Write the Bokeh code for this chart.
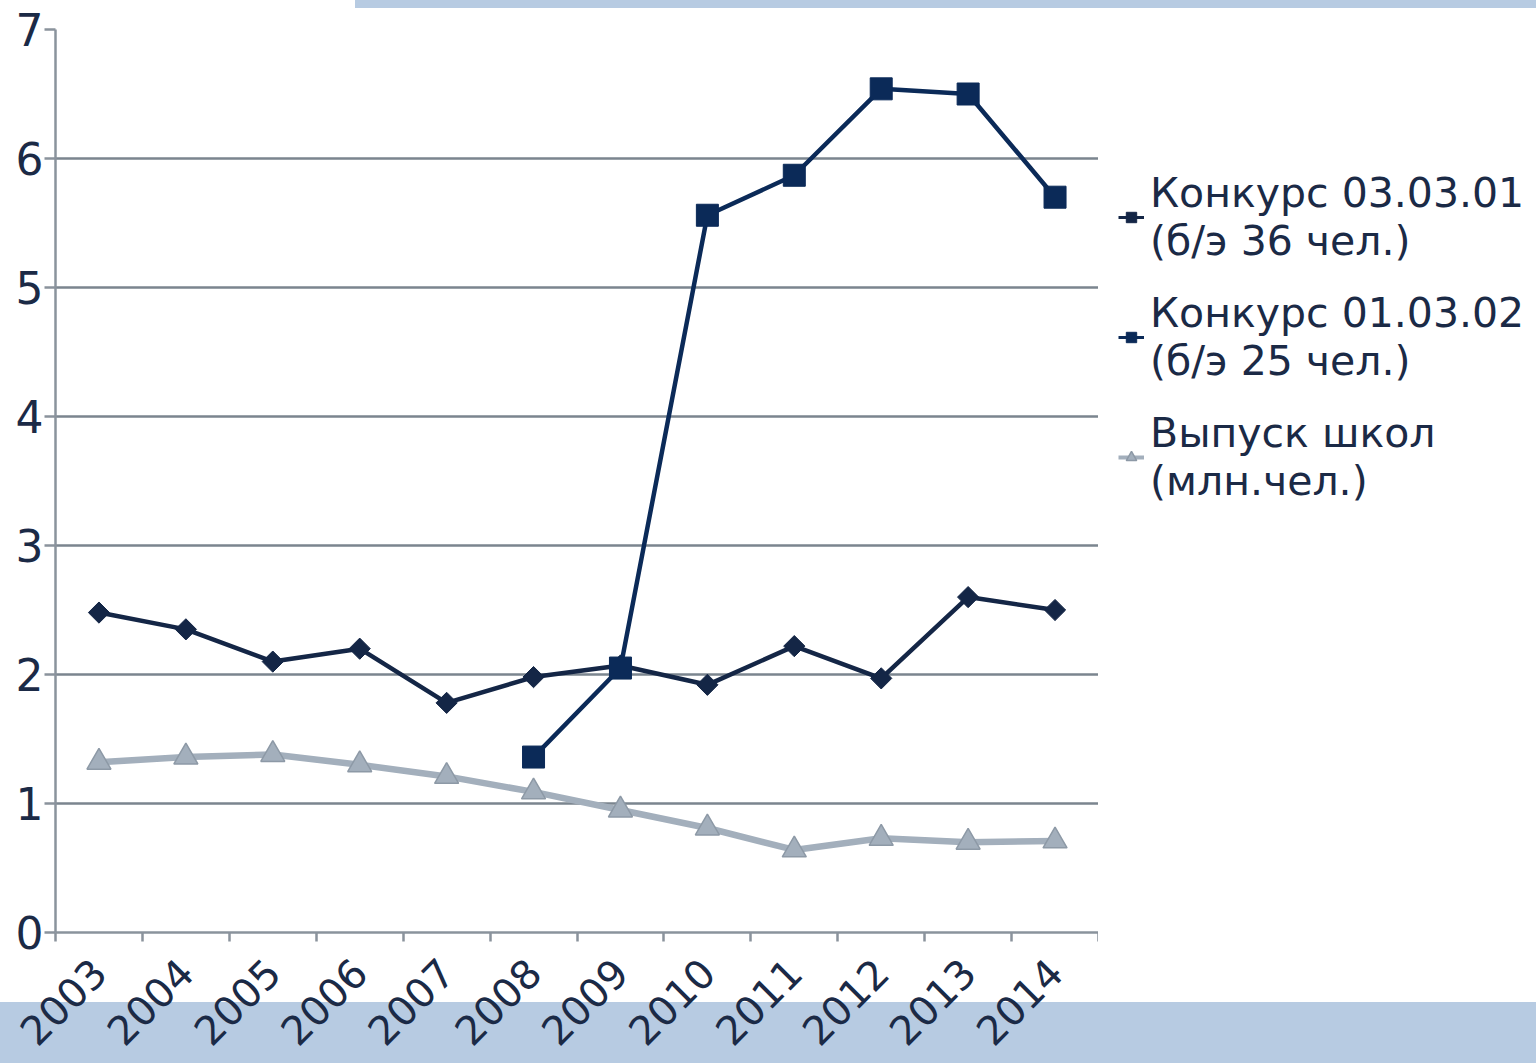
import math
from bokeh.plotting import figure
from bokeh.layouts import row
from bokeh.models import Range1d, FixedTicker, Legend, LegendItem
from bokeh.embed import file_html
from bokeh.resources import INLINE

years = ["2003", "2004", "2005", "2006", "2007", "2008",
         "2009", "2010", "2011", "2012", "2013", "2014"]
konkurs_030301 = [2.48, 2.35, 2.10, 2.20, 1.78, 1.98, 2.07, 1.92, 2.22, 1.97, 2.60, 2.50]
konkurs_010302_years = ["2008", "2009", "2010", "2011", "2012", "2013", "2014"]
konkurs_010302 = [1.36, 2.05, 5.56, 5.87, 6.54, 6.50, 5.70]
vypusk_shkol = [1.32, 1.36, 1.38, 1.30, 1.21, 1.09, 0.95, 0.81, 0.64, 0.73, 0.70, 0.71]
y_ticks = [0, 1, 2, 3, 4, 5, 6, 7]
legend_labels = ["Конкурс 03.03.01\n(б/э 36 чел.)",
                 "Конкурс 01.03.02\n(б/э 25 чел.)",
                 "Выпуск школ\n(млн.чел.)"]

FONT = "DejaVu Sans"
TEXT = "#1b2a46"
AXIS = "#8a939c"
GRID = "#7b858f"
C1 = "#142646"
C2 = "#0b2a58"
C3 = "#a3afbc"
C3_EDGE = "#8d99a6"
BAND = "#b7cbe2"

idx = {y: i for i, y in enumerate(years)}
x_all = [idx[y] for y in years]
x_k2 = [idx[y] for y in konkurs_010302_years]


def add_series(fig, legend_size=False):
    lw_dark = 3 if legend_size else 4.5
    lw_grey = 4 if legend_size else 6.5
    v_l = fig.line(x_all, vypusk_shkol, line_color=C3, line_width=lw_grey)
    v_m = fig.scatter(x_all, vypusk_shkol, marker="triangle", size=24, fill_color=C3,
                      line_color=C3_EDGE, line_width=1.5)
    a_l = fig.line(x_all, konkurs_030301, line_color=C1, line_width=lw_dark)
    a_m = fig.scatter(x_all, konkurs_030301, marker="square", angle=math.pi / 4, size=15,
                      fill_color=C1, line_color=C1)
    b_l = fig.line(x_k2, konkurs_010302, line_color=C2, line_width=lw_dark)
    b_m = fig.scatter(x_k2, konkurs_010302, marker="square", size=22, fill_color=C2,
                      line_color=C2)
    return (a_l, a_m), (b_l, b_m), (v_l, v_m)


# ---------------- main chart ----------------
p = figure(width=1098, height=1063, output_backend="svg", toolbar_location=None,
           x_range=Range1d(-0.5, len(years) - 0.5), y_range=Range1d(0, 7),
           min_border_left=55, min_border_right=0,
           min_border_top=29, min_border_bottom=131)
p.outline_line_color = None
p.background_fill_color = "white"
p.border_fill_alpha = 0

ya = p.yaxis[0]
ya.ticker = FixedTicker(ticks=y_ticks)
ya.major_label_text_font = FONT
ya.major_label_text_font_size = "44px"
ya.major_label_text_color = TEXT
ya.major_tick_out = 11
ya.major_tick_in = 0
ya.minor_tick_out = 0
ya.minor_tick_in = 0
ya.axis_line_color = AXIS
ya.axis_line_width = 2.5
ya.major_tick_line_color = AXIS
ya.major_tick_line_width = 2.5
ya.major_label_standoff = 1

p.ygrid.ticker = FixedTicker(ticks=y_ticks)
p.ygrid.grid_line_color = GRID
p.ygrid.grid_line_width = 2.5
p.xgrid.visible = False

xa = p.xaxis[0]
xa.ticker = FixedTicker(ticks=x_all, minor_ticks=[i - 0.5 for i in range(len(years) + 1)])
xa.major_label_overrides = {i: y for i, y in enumerate(years)}
xa.major_label_orientation = math.pi / 4
xa.major_label_text_font = FONT
xa.major_label_text_font_size = "40px"
xa.major_label_text_color = TEXT
xa.major_tick_out = 0
xa.major_tick_in = 0
xa.major_tick_line_color = None
xa.minor_tick_out = 9
xa.minor_tick_in = 0
xa.minor_tick_line_color = AXIS
xa.minor_tick_line_width = 2.5
xa.axis_line_color = AXIS
xa.axis_line_width = 2.5
xa.major_label_standoff = 24

add_series(p)

# ---------------- legend panel ----------------
# same series, kept outside this panel's visible ranges, only used as legend proxies
q = figure(width=438, height=1063, output_backend="svg", toolbar_location=None,
           x_range=Range1d(100, 101), y_range=Range1d(100, 101),
           x_axis_location=None, y_axis_location=None, min_border=0,
           min_border_left=0, min_border_right=0, min_border_top=0, min_border_bottom=0)
q.outline_line_color = None
q.grid.visible = False
q.background_fill_alpha = 0
q.border_fill_alpha = 0

k1, k2, vs = add_series(q, legend_size=True)

legend = Legend(items=[LegendItem(label=legend_labels[0], renderers=list(k1)),
                       LegendItem(label=legend_labels[1], renderers=list(k2)),
                       LegendItem(label=legend_labels[2], renderers=list(vs))],
                location=(20, 427), label_text_font=FONT, label_text_font_size="41px",
                label_text_color=TEXT, glyph_width=26, glyph_height=30,
                spacing=24, padding=0, margin=0, label_standoff=6,
                border_line_color=None, background_fill_alpha=0)
q.add_layout(legend)

layout = row(p, q)
layout.styles = {
    "background": (f"linear-gradient({BAND}, {BAND}) 355px 0px / 1181px 8px no-repeat, "
                   f"linear-gradient(to bottom, white 0px, white 1002px, {BAND} 1002px, {BAND} 100%)")
}

open("out.html", "w").write(file_html(layout, INLINE))
